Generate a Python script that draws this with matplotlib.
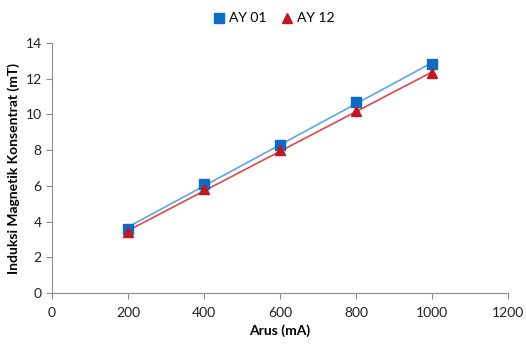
import numpy as np
import matplotlib.pyplot as plt

plt.rcParams['font.family'] = ['Lato', 'DejaVu Sans']

# Messwerte
arus = [200, 400, 600, 800, 1000]
ay01 = [3.6, 6.1, 8.3, 10.7, 12.8]
ay12 = [3.4, 5.8, 8.0, 10.2, 12.3]

xticks = [0, 200, 400, 600, 800, 1000, 1200]
yticks = [0, 2, 4, 6, 8, 10, 12, 14]

fig = plt.figure(figsize=(5.26, 3.44), dpi=100)
ax = fig.add_axes([0.099, 0.148, 0.867, 0.727])

x = np.array(arus)
for y, mk, mcol, lcol, name in [(ay01, 's', '#0a6cc4', '#5aa6e6', 'AY 01'),
                                (ay12, '^', '#c0181c', '#e0474a', 'AY 12')]:
    # lineare Trendlinie
    k, d = np.polyfit(x, y, 1)
    ax.plot(x, k * x + d, color=lcol, lw=1.2, zorder=2)
    ax.plot(x, y, linestyle='none', marker=mk, color=mcol, ms=7.5, label=name, zorder=3)

ax.set_xlim(0, 1200)
ax.set_ylim(0, 14)
ax.set_xticks(xticks)
ax.set_yticks(yticks)

for s in ['top', 'right']:
    ax.spines[s].set_visible(False)
for s in ['left', 'bottom']:
    ax.spines[s].set_color('#8c8c8c')
ax.tick_params(colors='#8c8c8c', labelcolor='#222222', labelsize=10, length=4)
ax.tick_params(axis='x', pad=6)

ax.set_xlabel('Arus (mA)', fontsize=10, fontweight='bold', labelpad=4)
ax.set_ylabel('Induksi Magnetik Konsentrat (mT)', fontsize=10, fontweight='bold', labelpad=4)

fig.legend(loc='upper center', bbox_to_anchor=(0.52, 1.0), ncol=2, frameon=False,
           fontsize=10, handlelength=1, handletextpad=0.2, columnspacing=1.0)

plt.savefig('out.png', dpi=100)
